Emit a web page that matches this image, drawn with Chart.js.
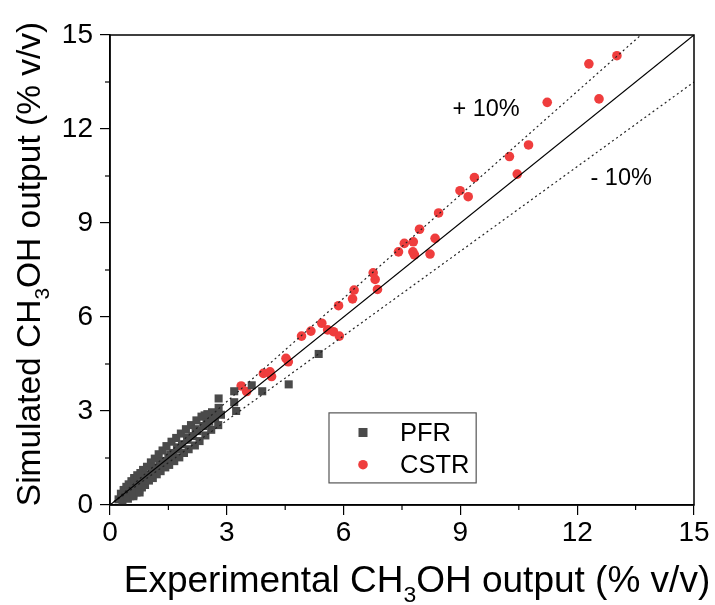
<!DOCTYPE html>
<html>
<head>
<meta charset="utf-8">
<script src="https://cdn.jsdelivr.net/npm/chart.js@4"></script>
<style>
  html, body { margin: 0; padding: 0; background: #fff; }
  #wrap { width: 715px; height: 605px; }
</style>
</head>
<body>
<div id="wrap"><canvas id="chart" width="715" height="605"></canvas></div>
<script>
// PFR points (experimental vs simulated, % v/v)
const pfrX = [0.22, 0.28, 0.30, 0.35, 0.38, 0.42, 0.45, 0.48, 0.50, 0.52, 0.55, 0.58, 0.60, 0.62, 0.65, 0.68, 0.70, 0.72, 0.75, 0.78, 0.80, 0.82,
    0.85, 0.88, 0.90, 0.95, 0.98, 1.00, 1.05, 1.08, 1.10, 1.15, 1.18, 1.20, 1.25, 1.28, 1.30, 1.35, 1.38, 1.42, 1.45, 1.50, 1.52,
    1.58, 1.62, 1.65, 1.70, 1.72, 1.78, 1.82, 1.85, 1.90, 1.95, 1.98, 2.02, 2.08, 2.12, 2.18, 2.22, 2.25, 2.30,
    2.35, 2.40, 2.45, 2.50, 2.55, 2.60, 2.65, 2.70, 2.78, 2.85,
    2.79, 2.79, 3.19, 3.19, 3.24, 3.64, 3.91, 4.59, 5.36, 2.43,
    0.40, 0.55, 0.70, 0.92, 1.12, 1.32, 1.55, 1.75, 2.00, 2.20, 2.48, 2.62,
    0.32, 0.46, 0.60, 0.76];
const pfrY = [0.18, 0.36, 0.20, 0.48, 0.26, 0.58, 0.32, 0.66, 0.38, 0.28, 0.76, 0.42, 0.33, 0.86, 0.52, 0.40, 0.95, 0.62, 0.48, 1.02, 0.70, 0.56,
    1.12, 0.82, 0.64, 1.22, 0.92, 0.78, 1.36, 1.02, 0.86, 1.48, 1.12, 0.98, 1.62, 1.26, 1.08, 1.74, 1.40, 1.20, 1.88, 1.52, 1.28,
    2.02, 1.66, 1.40, 2.14, 1.78, 1.52, 2.28, 1.94, 1.66, 2.42, 2.08, 1.78, 2.55, 2.20, 1.90, 2.70, 2.36, 2.04,
    2.82, 2.52, 2.22, 2.90, 2.66, 2.40, 2.92, 2.76, 2.55, 2.88,
    3.40, 3.10, 3.63, 3.28, 3.00, 3.82, 3.63, 3.85, 4.82, 2.86,
    0.30, 0.46, 0.62, 0.95, 1.20, 1.38, 1.62, 1.84, 2.16, 2.42, 2.64, 2.96,
    0.12, 0.20, 0.28, 0.40];

// CSTR points
const cstrX = [3.37, 3.51, 3.94, 4.11, 4.15, 4.52, 4.58,
    4.92, 5.16, 5.44, 5.59, 5.74, 5.89, 5.87, 6.23, 6.27, 6.87, 6.76, 6.81,
    7.41, 7.56, 7.79, 7.78, 7.82, 7.95, 8.22, 8.35, 8.44,
    8.99, 9.20, 9.36, 10.26, 10.46, 10.75, 11.23, 12.30, 12.56, 13.02];
const cstrY = [3.80, 3.62, 4.20, 4.25, 4.10, 4.68, 4.57,
    5.39, 5.55, 5.80, 5.59, 5.53, 5.39, 6.36, 6.58, 6.86, 6.88, 7.41, 7.20,
    8.08, 8.35, 8.40, 8.08, 7.98, 8.80, 8.01, 8.51, 9.32,
    10.03, 9.84, 10.45, 11.12, 10.56, 11.49, 12.85, 14.08, 12.96, 14.34];

// reference lines: parity and +/-10 %
const lineX = [0, 15];
const parityY = [0, 15];
const plusY = [0, 16.5];
const minusY = [0, 13.5];

const axisTicks = [0, 3, 6, 9, 12, 15];

const FONT = '"Liberation Sans", Arial, sans-serif';
const RED = '#ef3d3d';
const GREY = '#4a4a4a';

const toPoints = (xs, ys) => xs.map((x, i) => ({ x: x, y: ys[i] }));

// text notes placed in data units
const notes = [
    { text: '+ 10%', x: 9.66, y: 12.62 },
    { text: '- 10%', x: 13.13, y: 10.42 }
];

const drawSub = (ctx, parts, size) => {
    // parts: [text, isSub]
    let total = 0;
    parts.forEach(p => {
        ctx.font = (p[1] ? size * 0.62 : size) + 'px ' + FONT;
        total += ctx.measureText(p[0]).width;
    });
    let cx = -total / 2;
    parts.forEach(p => {
        ctx.font = (p[1] ? size * 0.62 : size) + 'px ' + FONT;
        ctx.fillText(p[0], cx, p[1] ? size * 0.26 : 0);
        cx += ctx.measureText(p[0]).width;
    });
};

const extras = {
    id: 'extras',
    afterDraw(chart) {
        const ctx = chart.ctx;
        const a = chart.chartArea;
        const xs = chart.scales.x, ys = chart.scales.y;
        ctx.save();

        // frame
        ctx.strokeStyle = '#000';
        ctx.lineWidth = 1.5;
        ctx.strokeRect(a.left, a.top, a.right - a.left, a.bottom - a.top);

        // minor ticks
        ctx.lineWidth = 1.2;
        xs.ticks.forEach(t => {
            if (axisTicks.includes(t.value)) return;
            const px = xs.getPixelForValue(t.value);
            ctx.beginPath(); ctx.moveTo(px, a.bottom); ctx.lineTo(px, a.bottom + 5); ctx.stroke();
        });
        ys.ticks.forEach(t => {
            if (axisTicks.includes(t.value)) return;
            const py = ys.getPixelForValue(t.value);
            ctx.beginPath(); ctx.moveTo(a.left, py); ctx.lineTo(a.left - 5, py); ctx.stroke();
        });

        ctx.fillStyle = '#000';
        ctx.textBaseline = 'middle';

        // notes
        ctx.textAlign = 'center';
        ctx.font = '23.5px ' + FONT;
        notes.forEach(n => ctx.fillText(n.text, xs.getPixelForValue(n.x), ys.getPixelForValue(n.y)));

        // axis titles
        ctx.textAlign = 'left';
        ctx.textBaseline = 'alphabetic';
        ctx.save();
        ctx.translate(417, 592);
        drawSub(ctx, [['Experimental CH', 0], ['3', 1], ['OH output (% v/v)', 0]], 37);
        ctx.restore();
        ctx.save();
        ctx.translate(40, 264);
        ctx.rotate(-Math.PI / 2);
        drawSub(ctx, [['Simulated CH', 0], ['3', 1], ['OH output (% v/v)', 0]], 33.5);
        ctx.restore();

        // legend
        ctx.textBaseline = 'middle';
        const w = a.right - a.left, h = a.bottom - a.top;
        const lx = a.left + w * 0.375, lr = a.left + w * 0.627;
        const ly = a.top + h * 0.804, lb = a.top + h * 0.953;
        ctx.strokeStyle = '#555';
        ctx.lineWidth = 1.2;
        ctx.strokeRect(lx, ly, lr - lx, lb - ly);
        const mx = lx + 34;
        const r1 = ly + (lb - ly) * 0.28, r2 = ly + (lb - ly) * 0.74;
        ctx.fillStyle = GREY;
        ctx.fillRect(mx - 4.5, r1 - 4.5, 9, 9);
        ctx.fillStyle = RED;
        ctx.beginPath(); ctx.arc(mx, r2, 4.8, 0, Math.PI * 2); ctx.fill();
        ctx.fillStyle = '#000';
        ctx.font = '25.5px ' + FONT;
        ctx.fillText('PFR', lx + 71, r1 + 1);
        ctx.fillText('CSTR', lx + 71, r2 + 1);

        ctx.restore();
    }
};

const axis = (pos) => ({
    type: 'linear',
    position: pos,
    min: 0,
    max: 15,
    afterFit: s => {
        if (pos === 'left') s.width = 110;
        else s.height = 100;
    },
    afterBuildTicks: s => {
        s.ticks = [0, 1.5, 3, 4.5, 6, 7.5, 9, 10.5, 12, 13.5, 15].map(v => ({ value: v }));
    },
    border: { display: true, color: '#000', width: 1.5 },
    grid: {
        drawOnChartArea: false,
        tickLength: 10,
        lineWidth: 1.2,
        color: c => (c.tick && axisTicks.includes(c.tick.value)) ? '#000' : 'rgba(0,0,0,0)'
    },
    ticks: {
        color: '#000',
        font: { family: FONT, size: 28 },
        padding: pos === 'left' ? 7 : 1,
        maxRotation: 0,
        autoSkip: false,
        callback: v => axisTicks.includes(v) ? String(v) : ''
    }
});

new Chart(document.getElementById('chart'), {
    type: 'scatter',
    data: {
        datasets: [
            {
                label: 'parity', type: 'line', data: toPoints(lineX, parityY),
                borderColor: '#000', borderWidth: 1.2, pointRadius: 0, fill: false
            },
            {
                label: '+10%', type: 'line', data: toPoints(lineX, plusY),
                borderColor: '#222', borderWidth: 1.2, borderDash: [2, 3], pointRadius: 0, fill: false
            },
            {
                label: '-10%', type: 'line', data: toPoints(lineX, minusY),
                borderColor: '#222', borderWidth: 1.2, borderDash: [2, 3], pointRadius: 0, fill: false
            },
            {
                label: 'PFR', data: toPoints(pfrX, pfrY),
                pointStyle: 'rect', pointRadius: 5.7, backgroundColor: GREY, borderWidth: 0
            },
            {
                label: 'CSTR', data: toPoints(cstrX, cstrY),
                pointStyle: 'circle', pointRadius: 4.8, backgroundColor: RED, borderWidth: 0
            }
        ]
    },
    options: {
        responsive: false,
        animation: false,
        layout: { padding: { left: 0, right: 21, top: 35, bottom: 0 } },
        scales: { x: axis('bottom'), y: axis('left') },
        plugins: {
            legend: { display: false },
            tooltip: { enabled: false }
        }
    },
    plugins: [extras]
});
</script>
</body>
</html>
